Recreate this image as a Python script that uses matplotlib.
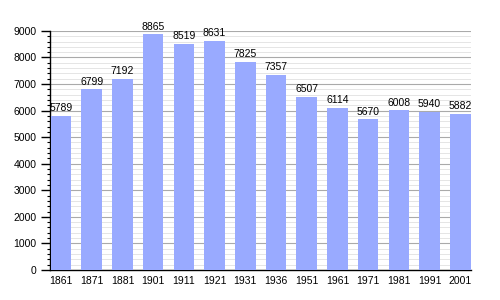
import matplotlib
matplotlib.use("Agg")
import matplotlib.pyplot as plt
from matplotlib.ticker import MultipleLocator

years = ["1861", "1871", "1881", "1901", "1911", "1921", "1931", "1936",
         "1951", "1961", "1971", "1981", "1991", "2001"]
population = [5789, 6799, 7192, 8865, 8519, 8631, 7825, 7357,
              6507, 6114, 5670, 6008, 5940, 5882]

plt.rcParams['font.family'] = ['Liberation Sans', 'DejaVu Sans']
fs = 7.5

fig = plt.figure(figsize=(5, 3), dpi=100)
ax = fig.add_axes([0.1, 0.1, 0.842, 0.797])

x = list(range(len(years)))
bars = ax.bar(x, population, width=0.67, color="#99aaff", zorder=3)
for xi, v in zip(x, population):
    ax.annotate(str(v), (xi, v), xytext=(0, 3.5), textcoords="offset points",
                ha="center", va="baseline", fontsize=fs, zorder=4)

ax.set_xlim(-0.36, 13.35)
ax.set_ylim(0, 9000)
ax.set_xticks(x)
ax.set_xticklabels(years, fontsize=fs)
ax.yaxis.set_major_locator(MultipleLocator(1000))
ax.yaxis.set_minor_locator(MultipleLocator(200))
ax.tick_params(axis='y', which='major', labelsize=fs, length=6.5, width=1, pad=3)
ax.tick_params(axis='y', which='minor', length=2.5, width=0.8)
ax.tick_params(axis='x', length=0, pad=4)
ax.grid(axis='y', which='major', color='#aaaaaa', linewidth=0.8, zorder=0)
ax.grid(axis='y', which='minor', color='#e0e0e0', linewidth=0.6, zorder=0)
for s in ['top', 'right']:
    ax.spines[s].set_visible(False)
ax.spines['left'].set_linewidth(1)
ax.spines['bottom'].set_linewidth(1)

fig.savefig("out.png", dpi=100)
